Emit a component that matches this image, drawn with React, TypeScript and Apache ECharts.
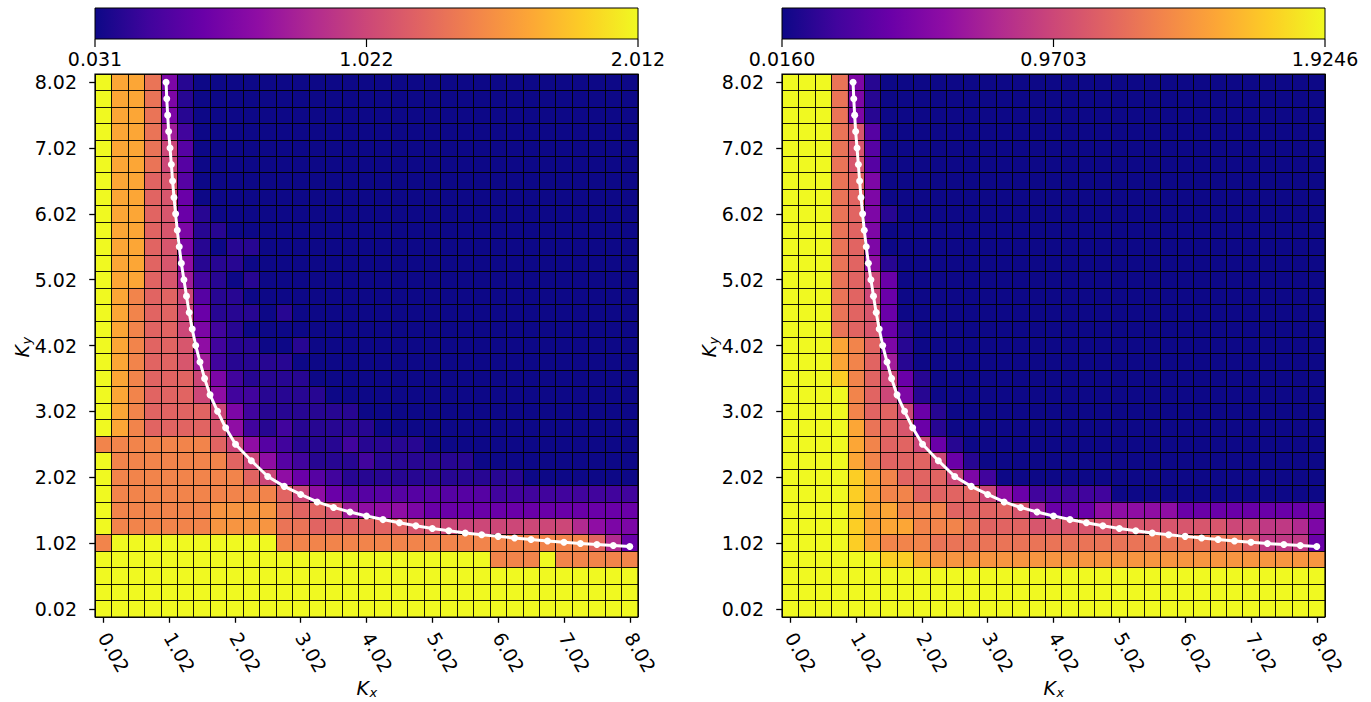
import React, { useEffect, useRef } from 'react';
import * as echarts from 'echarts';

// Axis tick labels (K values at every 4th grid line)
const kTickLabels = ['0.02', '1.02', '2.02', '3.02', '4.02', '5.02', '6.02', '7.02', '8.02'];

// Colour ranges and colour-bar tick labels
const leftRange = [0.031, 2.012];
const leftBarLabels = ['0.031', '1.022', '2.012'];
const rightRange = [0.016, 1.9246];
const rightBarLabels = ['0.0160', '0.9703', '1.9246'];

// Heat-map cells: rows from Ky = 8.02 (top) down to Ky = 0.02, columns Kx = 0.02 .. 8.02 (33 x 33).
// Each character is the cell level in twentieths of the colour range (base-36 digit: 0 = min, K = max).
const leftRows = [
  'KGGD5100000' + '00000000000' + '00000000000',
  'KGGD5100000' + '00000000000' + '00000000000',
  'KGGD5100000' + '00000000000' + '00000000000',
  'KGGD7200000' + '00000000000' + '00000000000',
  'KGGDA300000' + '00000000000' + '00000000000',
  'KGGDA300000' + '00000000000' + '00000000000',
  'KGGCB300000' + '00000000000' + '00000000000',
  'KGGCB400000' + '00000000000' + '00000000000',
  'KGGCB410000' + '00000000000' + '00000000000',
  'KGGCB511000' + '00000000000' + '00000000000',
  'KGGCB510110' + '00000000000' + '00000000000',
  'KGGCB611100' + '00000000000' + '00000000000',
  'KGGCB721010' + '00000000000' + '00000000000',
  'KGECCA31100' + '00000000000' + '00000000000',
  'KGECCA41110' + '10000000000' + '00000000000',
  'KGECCA52100' + '00000000000' + '00000000000',
  'KGECCB62110' + '01000000000' + '00000000000',
  'KGECCB72111' + '10000000000' + '00000000000',
  'KGECCCA5211' + '11000000000' + '00000000000',
  'KGECCCA6221' + '11100000000' + '00000000000',
  'KGECCCCA521' + '11111000000' + '00000000000',
  'KGECCCCB621' + '21111100000' + '00000000000',
  'EEEEEEECA63' + '21112111100' + '00000000000',
  'KEEEEEEECA6' + '32111211111' + '10000000000',
  'KEEEEEEEECA' + '64321111111' + '11110000000',
  'KEEEEEEEEEE' + 'CA643333333' + '33222222222',
  'KEEEEEEFFFF' + 'DCCB7666544' + '44444444444',
  'KEEEEEEFFFF' + 'DDCCCCCCBBA' + 'AAAAAAA8655',
  'EKKKKKKKKKK' + 'EEEEEEEEEEE' + 'EEEEEEEEC84',
  'KKKKKKKKKKK' + 'KKKKKKKKKKK' + 'KKEEEKEEEEE',
  'KKKKKKKKKKK' + 'KKKKKKKKKKK' + 'KKKKKKKKKKK',
  'KKKKKKKKKKK' + 'KKKKKKKKKKK' + 'KKKKKKKKKKK',
  'KKKKKKKKKKK' + 'KKKKKKKKKKK' + 'KKKKKKKKKKK',
];

const rightRows = [
  'KKKD5100000' + '00000000000' + '00000000000',
  'KKKD5100000' + '00000000000' + '00000000000',
  'KKKD5100000' + '00000000000' + '00000000000',
  'KKKDB300000' + '00000000000' + '00000000000',
  'KKKDB300000' + '00000000000' + '00000000000',
  'KKKDB300000' + '00000000000' + '00000000000',
  'KKKDC500000' + '00000000000' + '00000000000',
  'KKKDC500000' + '00000000000' + '00000000000',
  'KKKDC510000' + '00000000000' + '00000000000',
  'KKKDC500000' + '00000000000' + '00000000000',
  'KKKDC500000' + '00000000000' + '00000000000',
  'KKKDC610000' + '00000000000' + '00000000000',
  'KKKDCA40000' + '00000000000' + '00000000000',
  'KKKDCA40000' + '00000000000' + '00000000000',
  'KKKDCB40000' + '00000000000' + '00000000000',
  'KKKDCB41000' + '00000000000' + '00000000000',
  'KKKGEC51000' + '00000000000' + '00000000000',
  'KKKGEC71000' + '00000000000' + '00000000000',
  'KKKIECA4100' + '00000000000' + '00000000000',
  'KKKKECA5100' + '00000000000' + '00000000000',
  'KKKKECCA410' + '00000000000' + '00000000000',
  'KKKKGDCB410' + '00000000000' + '00000000000',
  'KKKKGECCA41' + '00000000000' + '00000000000',
  'KKKKGECCCA4' + '10000000000' + '00000000000',
  'KKKKIGECCCA' + '52000000000' + '00000000000',
  'KKKKIGEECCC' + 'CA642222200' + '00000000000',
  'KKKKIGGEEEC' + 'CCCB7444666' + '66444444444',
  'KKKKIGGGEEE' + 'DCCCBBBBBBB' + 'BBBBBAA9985',
  'KKKKIGEEEDD' + 'DDDDDDDDDDD' + 'DDDDDDC9994',
  'KKKKKKIIGFF' + 'FFFFFFFFFFF' + 'FFFFFFFFFFF',
  'KKKKKKKKKKK' + 'KKKKKKKKKKK' + 'KKKKKKKKKKK',
  'KKKKKKKKKKK' + 'KKKKKKKKKKK' + 'KKKKKKKKKKK',
  'KKKKKKKKKKK' + 'KKKKKKKKKKK' + 'KKKKKKKKKKK',
];

// White boundary curve (same in both panels)
const curveKx = [0.975, 0.985, 0.999, 1.014, 1.035, 1.055, 1.074, 1.095, 1.12, 1.145, 1.175, 1.207, 1.246, 1.285, 1.326, 1.372, 1.425, 1.49, 1.56, 1.643, 1.757, 1.88, 2.03, 2.27, 2.52, 2.77, 3.02, 3.27, 3.52, 3.77, 4.02, 4.27, 4.52, 4.77, 5.02, 5.27, 5.52, 5.77, 6.02, 6.27, 6.52, 6.77, 7.02, 7.27, 7.52, 7.77, 8.02];
const curveKy = [8.02, 7.77, 7.52, 7.27, 7.02, 6.77, 6.52, 6.27, 6.02, 5.77, 5.52, 5.27, 5.02, 4.77, 4.52, 4.27, 4.02, 3.77, 3.52, 3.27, 3.02, 2.77, 2.52, 2.27, 2.03, 1.88, 1.757, 1.643, 1.56, 1.49, 1.43, 1.375, 1.327, 1.28, 1.24, 1.205, 1.17, 1.145, 1.12, 1.094, 1.073, 1.05, 1.032, 1.012, 0.997, 0.982, 0.965];

const plasma = ['#0d0887', '#41049d', '#6a00a8', '#8f0da4', '#b12a90', '#cc4778', '#e16462', '#f2844b', '#fca636', '#fcce25', '#f0f921'];

const K0 = 0.02;
const KSTEP = 0.25;
const FONT = '"DejaVu Sans", sans-serif';

function toCells(rows: string[], range: number[]) {
  const out: number[][] = [];
  const n = rows.length;
  rows.forEach((r, ri) => {
    const j = n - 1 - ri;
    for (let i = 0; i < r.length; i++) {
      const lv = parseInt(r[i], 36) / 20;
      out.push([i, j, range[0] + lv * (range[1] - range[0])]);
    }
  });
  return out;
}

const curveData = curveKx.map((kx, n) => [(kx - K0) / KSTEP, (curveKy[n] - K0) / KSTEP]);

const PANELS = [
  { left: 95, top: 74, size: 543, rows: leftRows, range: leftRange, bar: leftBarLabels, ky: 12 },
  { left: 782, top: 74, size: 543, rows: rightRows, range: rightRange, bar: rightBarLabels, ky: 699 },
];
const NCELL = 33;

export default function App() {
  const ref = useRef<HTMLDivElement>(null);
  useEffect(() => {
    document.body.style.margin = '0';
    if (!ref.current) return;
    const chart = echarts.init(ref.current, undefined, { renderer: 'svg' });
    const grid: any[] = [];
    const xAxis: any[] = [];
    const yAxis: any[] = [];
    const series: any[] = [];
    const visualMap: any[] = [];
    const graphic: any[] = [];

    PANELS.forEach((p, pi) => {
      const cell = p.size / NCELL;
      const half = cell / 2;
      const gA = pi * 2;
      const gB = pi * 2 + 1;
      grid.push({ left: p.left, top: p.top, width: p.size, height: p.size, containLabel: false });
      grid.push({ left: p.left + half, top: p.top + half, width: p.size - cell, height: p.size - cell, containLabel: false });
      const gridLine = { show: true, lineStyle: { color: '#000', width: 1, opacity: 0.9 } };
      xAxis.push({
        type: 'value', gridIndex: gA, min: -0.5, max: NCELL - 0.5, interval: 1, z: 4,
        axisLine: { show: false }, axisTick: { show: false }, axisLabel: { show: false }, splitLine: gridLine,
      });
      yAxis.push({
        type: 'value', gridIndex: gA, min: -0.5, max: NCELL - 0.5, interval: 1, z: 4,
        axisLine: { show: false }, axisTick: { show: false }, axisLabel: { show: false }, splitLine: gridLine,
      });
      const lab = (v: number) => kTickLabels[Math.round(v / 4)] ?? '';
      xAxis.push({
        type: 'value', gridIndex: gB, min: 0, max: NCELL - 1, interval: 4, position: 'bottom', offset: half,
        axisLine: { show: false },
        axisTick: { show: true, length: 14, lineStyle: { color: '#000', width: 1.3 } },
        axisLabel: { show: true, rotate: -60, margin: 17, fontSize: 19, color: '#000', fontFamily: FONT, formatter: lab },
        splitLine: { show: false },
      });
      yAxis.push({
        type: 'value', gridIndex: gB, min: 0, max: NCELL - 1, interval: 4, position: 'left', offset: half,
        axisLine: { show: false },
        axisTick: { show: true, length: 14, lineStyle: { color: '#000', width: 1.3 } },
        axisLabel: { show: true, margin: 18, fontSize: 19, color: '#000', fontFamily: FONT, formatter: lab },
        splitLine: { show: false },
      });

      series.push({
        type: 'custom', xAxisIndex: gA, yAxisIndex: gA, z: 1, clip: false,
        encode: { x: 0, y: 1 },
        data: toCells(p.rows, p.range),
        renderItem: (params: any, api: any) => {
          const c = api.coord([api.value(0), api.value(1)]);
          const s = api.size([1, 1]);
          return {
            type: 'rect',
            shape: { x: c[0] - s[0] / 2, y: c[1] - s[1] / 2, width: s[0] + 0.6, height: s[1] + 0.6 },
            style: { fill: api.visual('color') },
          };
        },
      });
      visualMap.push({
        type: 'continuous', show: false, seriesIndex: pi * 2, dimension: 2,
        min: p.range[0], max: p.range[1], inRange: { color: plasma },
      });
      series.push({
        type: 'line', xAxisIndex: gA, yAxisIndex: gA, z: 10, data: curveData,
        symbol: 'circle', symbolSize: 7, showSymbol: true,
        lineStyle: { color: '#fff', width: 3 }, itemStyle: { color: '#fff' },
      });

      // frame
      graphic.push({
        type: 'rect', z: 50, silent: true,
        shape: { x: p.left, y: p.top, width: p.size, height: p.size },
        style: { fill: 'none', stroke: '#000', lineWidth: 1.2 },
      });

      // colour bar
      const barY = 8;
      const barH = 31;
      graphic.push({
        type: 'rect', z: 50, silent: true,
        shape: { x: p.left, y: barY, width: p.size, height: barH },
        style: {
          fill: new echarts.graphic.LinearGradient(0, 0, 1, 0, plasma.map((c, k) => ({ offset: k / (plasma.length - 1), color: c }))),
          stroke: '#000', lineWidth: 1,
        },
      });
      p.bar.forEach((t, k) => {
        const x = p.left + (p.size * k) / 2;
        graphic.push({
          type: 'line', z: 50, silent: true,
          shape: { x1: x, y1: barY + barH, x2: x, y2: barY + barH + 8 },
          style: { stroke: '#000', lineWidth: 1.2 },
        });
        graphic.push({
          type: 'text', z: 50, silent: true, x, y: barY + barH + 10,
          style: { text: t, font: `19px ${FONT}`, fill: '#000', textAlign: 'center', textVerticalAlign: 'top', align: 'center', verticalAlign: 'top' },
        });
      });

      // axis names
      const cx = p.left + p.size / 2;
      graphic.push({
        type: 'group', x: cx - 10, y: 678, z: 50, silent: true,
        children: [
          { type: 'text', x: 0, y: 0, style: { text: 'K', font: `italic 19px ${FONT}`, fill: '#000' } },
          { type: 'text', x: 13, y: 8, style: { text: 'x', font: `italic 13px ${FONT}`, fill: '#000' } },
        ],
      });
      graphic.push({
        type: 'group', x: p.ky, y: p.top + p.size / 2 + 12, rotation: Math.PI / 2, z: 50, silent: true,
        children: [
          { type: 'text', x: 0, y: 0, style: { text: 'K', font: `italic 19px ${FONT}`, fill: '#000' } },
          { type: 'text', x: 13, y: 8, style: { text: 'y', font: `italic 13px ${FONT}`, fill: '#000' } },
        ],
      });
    });

    chart.setOption({
      animation: false,
      backgroundColor: '#fff',
      grid, xAxis, yAxis, series, visualMap, graphic,
    });
    return () => chart.dispose();
  }, []);
  return <div ref={ref} style={{ width: 1371, height: 702 }} />;
}
